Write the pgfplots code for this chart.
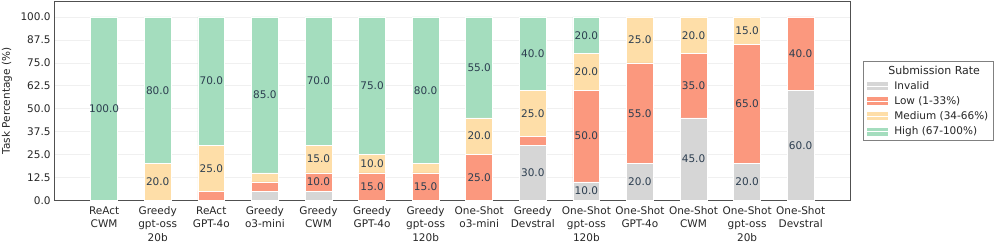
\documentclass[border=0pt]{standalone}
\usepackage{fontspec}
\setmainfont{DejaVu Sans}
\usepackage{pgfplots}
\usepackage{pgfplotstable}
\pgfplotsset{compat=1.18}
\definecolor{cInvalid}{RGB}{214,214,214}
\definecolor{cLow}{RGB}{251,152,126}
\definecolor{cMedium}{RGB}{254,222,168}
\definecolor{cHigh}{RGB}{164,221,190}
\definecolor{cText}{RGB}{44,62,80}
\definecolor{cAxis}{RGB}{80,80,80}

\pgfplotstableread{
x Invalid Low Medium High
0 0 0 0 100
1 0 0 20 80
2 0 5 25 70
3 5 5 5 85
4 5 10 15 70
5 0 15 10 75
6 0 15 5 80
7 0 25 20 55
8 30 5 25 40
9 10 50 20 20
10 20 55 25 0
11 45 35 20 0
12 20 65 15 0
13 60 40 0 0
}\datatable

\begin{document}
\fontsize{10.5}{13.7}\selectfont
\begin{tikzpicture}
\path[use as bounding box] (-54.3pt,-43.7pt) rectangle (941.7pt,200.3pt);
\begin{axis}[
  at={(0,0)}, anchor=south west,
  x=53.58pt, y=1.8333pt,
  xmin=-0.93, xmax=13.925,
  ymin=0, ymax=108.3,
  enlargelimits=false,
  ybar stacked, bar width=0.5,
  axis line style={draw=cAxis, line width=0.8pt},
  major tick length=0pt,
  ytick={0,12.5,25,37.5,50,62.5,75,87.5,100},
  yticklabel style={/pgf/number format/fixed, /pgf/number format/fixed zerofill, /pgf/number format/precision=1, font=\fontsize{10.5}{12}\selectfont, text=black!85},
  /pgf/number format/assume math mode=true,
  xtick={0,...,13},
  xticklabels={{ReAct\\[1.5pt]CWM},{Greedy\\[1.5pt]gpt-oss\\[1.5pt]20b},{ReAct\\[1.5pt]GPT-4o},{Greedy\\[1.5pt]o3-mini},{Greedy\\[1.5pt]CWM},{Greedy\\[1.5pt]GPT-4o},{Greedy\\[1.5pt]gpt-oss\\[1.5pt]120b},{One-Shot\\[1.5pt]o3-mini},{Greedy\\[1.5pt]Devstral},{One-Shot\\[1.5pt]gpt-oss\\[1.5pt]120b},{One-Shot\\[1.5pt]GPT-4o},{One-Shot\\[1.5pt]CWM},{One-Shot\\[1.5pt]gpt-oss\\[1.5pt]20b},{One-Shot\\[1.5pt]Devstral}},
  xticklabel style={align=center, font=\fontsize{10.5}{12}\selectfont, text=black!85, yshift=-2.5pt},
  ymajorgrids, major grid style={draw=black!6, line width=0.6pt},
  ylabel={Task Percentage (\%)},
  every axis y label/.style={at={(rel axis cs:0,0.5)}, rotate=90, anchor=center, yshift=47.3pt, font=\fontsize{10.5}{12}\selectfont, text=black!85},
  nodes near coords={\ifdim\myval pt<9.5pt \else\pgfmathprintnumber[fixed,fixed zerofill,precision=1]{\myval}\fi},
  every node near coord/.append style={anchor=center, font=\fontsize{10.5}{12}\selectfont, text=cText},
  legend image code/.code={\fill[#1,draw=none] (0pt,-4pt) rectangle (21pt,4pt);\path (0pt,0pt) -- (26pt,0pt);},
  legend style={at={(1,0.5)}, anchor=west, xshift=12.7pt, draw=black!50, line width=0.6pt,
    font=\fontsize{10.5}{12}\selectfont, text=black!85,
    inner sep=3.5pt, row sep=3.6pt, cells={anchor=west},
    nodes={inner sep=1pt}},
]
\addlegendimage{empty legend}
\addlegendentry{\hspace{-6pt}\fontsize{11}{12}\selectfont Submission Rate}
\addplot[fill=cInvalid, draw=white, line width=0.6pt,
    visualization depends on={\thisrow{Invalid}\as\myval}]
    table[x=x,y=Invalid]{\datatable};
\addlegendentry{Invalid}
\addplot[fill=cLow, draw=white, line width=0.6pt,
    visualization depends on={\thisrow{Low}\as\myval}]
    table[x=x,y=Low]{\datatable};
\addlegendentry{Low (1-33\%)}
\addplot[fill=cMedium, draw=white, line width=0.6pt,
    visualization depends on={\thisrow{Medium}\as\myval}]
    table[x=x,y=Medium]{\datatable};
\addlegendentry{Medium (34-66\%)}
\addplot[fill=cHigh, draw=white, line width=0.6pt,
    visualization depends on={\thisrow{High}\as\myval}]
    table[x=x,y=High]{\datatable};
\addlegendentry{High (67-100\%)}
\end{axis}
\end{tikzpicture}
\end{document}
